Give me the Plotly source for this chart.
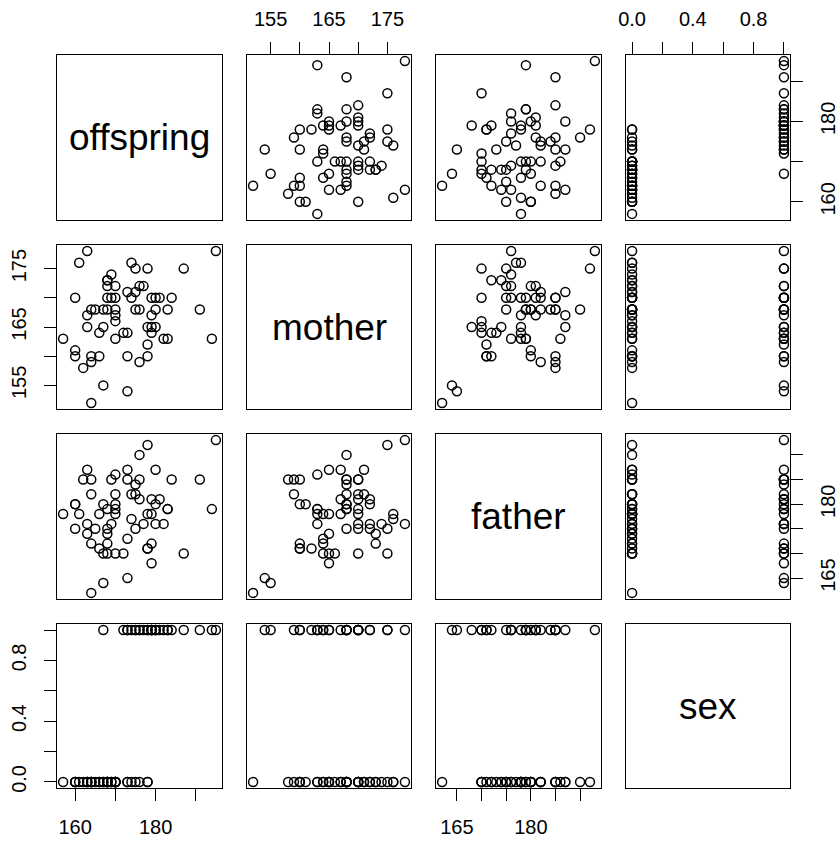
import plotly.graph_objects as go

# ---- data ----
names = ["offspring", "mother", "father", "sex"]

offspring = [195, 194, 191, 187, 184, 183, 182, 183, 181, 180, 180, 180, 179, 179, 179, 179,
             178, 178, 178, 178, 177, 176, 176, 176, 175, 175, 175, 174, 174, 173, 173, 173,
             173, 172, 170, 170, 170, 170, 170, 170, 169, 169, 168, 168, 168, 168, 168, 167,
             167, 167, 166, 166, 165, 164, 164, 164, 164, 163, 163, 163, 162, 161, 160, 160,
             160, 157]
mother = [178, 163, 168, 175, 170, 163, 163, 168, 170, 170, 168, 165, 165, 164, 167, 170,
          175, 162, 160, 165, 172, 172, 159, 168, 175, 168, 171, 170, 176, 154, 171, 160,
          164, 164, 163, 166, 167, 172, 170, 168, 174, 170, 173, 173, 172, 170, 168, 155,
          165, 168, 164, 160, 168, 152, 160, 159, 168, 178, 165, 167, 158, 176, 161, 160,
          170, 163]
father = [193, 179, 185, 170, 185, 179, 176, 179, 181, 176, 180, 187, 168, 172, 181, 178,
          192, 171, 171, 178, 176, 181, 185, 190, 175, 184, 182, 182, 177, 165, 187, 185,
          173, 170, 186, 170, 178, 180, 179, 182, 176, 185, 172, 174, 175, 170, 179, 164,
          170, 180, 178, 171, 175, 162, 172, 182, 185, 176, 174, 187, 185, 178, 180, 180,
          175, 178]
sex = [1, 1, 1, 1, 1, 1, 1, 1, 1, 1, 1, 1, 1, 1, 1, 1,
       0, 1, 1, 0, 1, 1, 1, 0, 1, 1, 0, 1, 0, 1, 0, 1,
       0, 1, 0, 0, 0, 0, 0, 0, 0, 0, 0, 0, 0, 0, 0, 1,
       0, 0, 0, 0, 0, 0, 0, 0, 0, 0, 0, 0, 0, 0, 0, 0,
       0, 0]

offspring_ticks = [160, 170, 180, 190]
offspring_ticklabels = ["160", "", "180", ""]
mother_ticks = [155, 160, 165, 170, 175]
mother_ticklabels = ["155", "", "165", "", "175"]
father_ticks = [165, 170, 175, 180, 185, 190]
father_ticklabels = ["165", "", "", "180", "", ""]
sex_ticks = [0, 0.2, 0.4, 0.6, 0.8, 1.0]
sex_ticklabels = ["0.0", "", "0.4", "", "0.8", ""]

data = {"offspring": offspring, "mother": mother, "father": father, "sex": sex}
ticks = {"offspring": (offspring_ticks, offspring_ticklabels),
         "mother": (mother_ticks, mother_ticklabels),
         "father": (father_ticks, father_ticklabels),
         "sex": (sex_ticks, sex_ticklabels)}


def rng(v):
    a, b = min(v), max(v)
    d = b - a
    return [a - 0.04 * d, b + 0.04 * d]


W, H = 838, 841
colpx = [(57, 222), (247, 411), (436, 601), (626, 790)]
rowpx = [(55, 220), (245, 409), (434, 599), (624, 788)]

FONT = "Liberation Sans, Arial, Helvetica, sans-serif"
fig = go.Figure()
layout = {}
annotations = []

for i in range(4):
    for j in range(4):
        k = i * 4 + j + 1
        xn = "xaxis" if k == 1 else f"xaxis{k}"
        yn = "yaxis" if k == 1 else f"yaxis{k}"
        xr = "x" if k == 1 else f"x{k}"
        yr = "y" if k == 1 else f"y{k}"
        base = dict(showline=True, mirror=True, linecolor="black", linewidth=1.3,
                    showgrid=False, zeroline=False, showticklabels=False, ticks="",
                    fixedrange=True, automargin=False)
        xa = dict(base, domain=[colpx[j][0] / W, colpx[j][1] / W], anchor=yr)
        ya = dict(base, domain=[1 - rowpx[i][1] / H, 1 - rowpx[i][0] / H], anchor=xr)
        if i == j:
            xa["range"] = [0, 1]
            ya["range"] = [0, 1]
            annotations.append(dict(x=0.5, y=0.5, xref=xr, yref=yr, text=names[i],
                                    showarrow=False,
                                    font=dict(family=FONT, size=37, color="black")))
        else:
            xa["range"] = rng(data[names[j]])
            ya["range"] = rng(data[names[i]])
            fig.add_trace(go.Scatter(
                x=data[names[j]], y=data[names[i]], mode="markers",
                xaxis=xr, yaxis=yr, showlegend=False, hoverinfo="skip",
                marker=dict(symbol="circle-open", size=9, color="black",
                            line=dict(width=1.5, color="black"))))

        def tick_style(standoff):
            return dict(ticks="outside", ticklen=12, tickwidth=1.3, tickcolor="black",
                        showticklabels=True, ticklabelstandoff=standoff,
                        tickfont=dict(family=FONT, size=20, color="black"))
        # top axes (row 0, cols 1 and 3)
        if i == 0 and j in (1, 3):
            tv, tt = ticks[names[j]]
            xa.update(tick_style(8), side="top", tickvals=tv, ticktext=tt, tickangle=0)
        # bottom axes (row 3, cols 0 and 2)
        if i == 3 and j in (0, 2):
            tv, tt = ticks[names[j]]
            xa.update(tick_style(9), side="bottom", tickvals=tv, ticktext=tt, tickangle=0)
        # left axes (col 0, rows 1 and 3)
        if j == 0 and i in (1, 3):
            tv, tt = ticks[names[i]]
            ya.update(tick_style(10), side="left", tickvals=tv, ticktext=tt, tickangle=-90)
        # right axes (col 3, rows 0 and 2)
        if j == 3 and i in (0, 2):
            tv, tt = ticks[names[i]]
            ya.update(tick_style(8), side="right", tickvals=tv, ticktext=tt, tickangle=-90)
        layout[xn] = xa
        layout[yn] = ya

fig.update_layout(**layout)
fig.update_layout(width=W, height=H, margin=dict(l=0, r=0, t=0, b=0, autoexpand=False),
                  paper_bgcolor="white", plot_bgcolor="white",
                  annotations=annotations, showlegend=False,
                  font=dict(family=FONT, color="black"))

fig.write_html("out.html", config={"displayModeBar": False},
               post_script="document.body.style.margin='0';document.body.style.overflow='hidden';")
